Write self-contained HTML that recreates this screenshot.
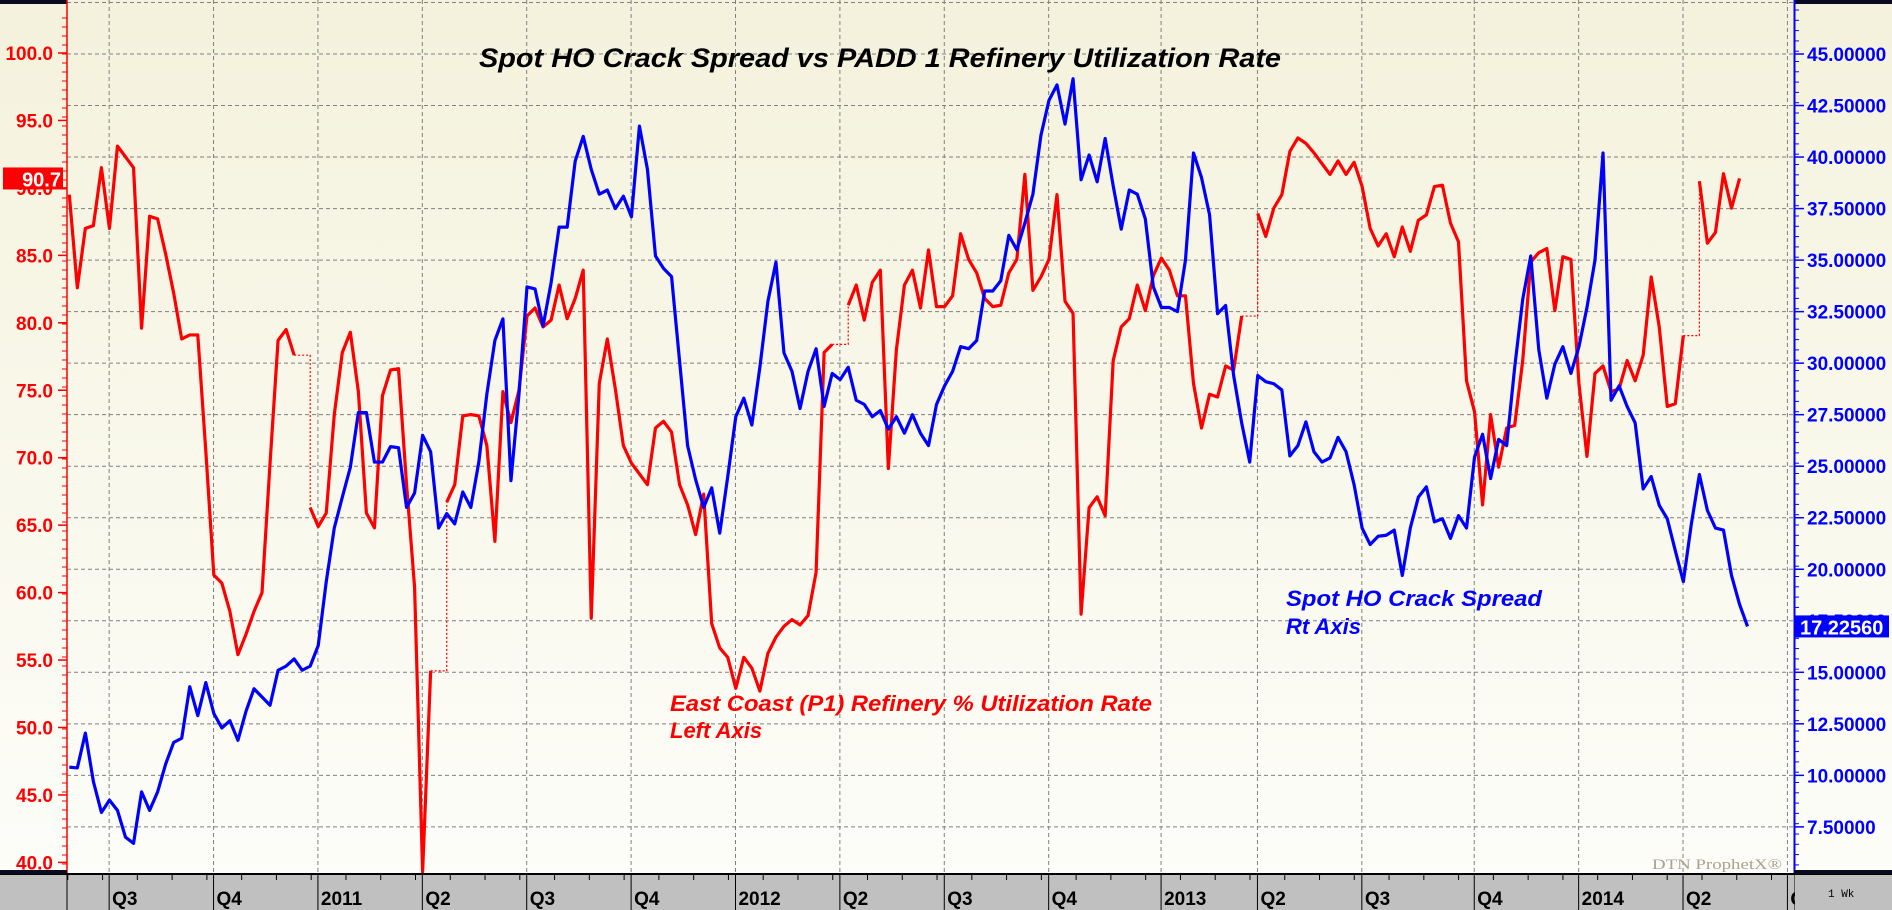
<!DOCTYPE html>
<html><head><meta charset="utf-8">
<style>
html,body{margin:0;padding:0;width:1892px;height:910px;overflow:hidden;background:#fff}
svg{display:block}
</style></head>
<body>
<svg id="chart" width="1892" height="910" viewBox="0 0 1892 910" xmlns="http://www.w3.org/2000/svg">
<defs>
<linearGradient id="bg" x1="0" y1="0" x2="0" y2="1">
<stop offset="0" stop-color="#f4f2dc"/><stop offset="1" stop-color="#fdfdf9"/>
</linearGradient>
<clipPath id="plotclip"><rect x="67" y="0" width="1727" height="873"/></clipPath>
</defs>
<rect x="0" y="0" width="1892" height="874" fill="url(#bg)"/>
<rect x="0" y="0" width="67" height="4" fill="#0a0a20"/>
<rect x="1794" y="0" width="98" height="4" fill="#0a0a20"/>
<g id="grid"></g>
<g id="leftAxis"></g>
<g id="rightAxis"></g>
<g id="series" clip-path="url(#plotclip)"></g>
<text x="479" y="67" font-family="Liberation Sans, sans-serif" font-weight="bold" font-style="italic" font-size="27" fill="#000" textLength="802" lengthAdjust="spacingAndGlyphs">Spot HO Crack Spread vs PADD 1 Refinery Utilization Rate</text>
<text font-family="Liberation Sans, sans-serif" font-weight="bold" font-style="italic" font-size="22" fill="#ff0000"><tspan x="670" y="711" textLength="482" lengthAdjust="spacingAndGlyphs">East Coast (P1) Refinery % Utilization Rate</tspan><tspan x="670" y="738">Left Axis</tspan></text>
<text font-family="Liberation Sans, sans-serif" font-weight="bold" font-style="italic" font-size="22" fill="#0000ff"><tspan x="1286" y="606" textLength="256" lengthAdjust="spacingAndGlyphs">Spot HO Crack Spread</tspan><tspan x="1286" y="634">Rt Axis</tspan></text>
<text x="1652" y="869" font-family="Liberation Serif, serif" font-size="15" fill="#a8a290" textLength="130" lengthAdjust="spacingAndGlyphs">DTN ProphetX®</text>
<g id="xAxis"></g>
<g id="badges"></g>
</svg>
<script>
const NS = 'http://www.w3.org/2000/svg';
const refineryUtil = [89.5,82.6,87.0,87.2,91.5,87.0,93.1,92.3,91.5,79.6,
87.9,87.7,85.1,82.2,78.8,79.1,79.1,70.5,61.3,60.7,
58.6,55.4,56.9,58.6,60.0,69.6,78.7,79.5,77.6,null,
66.3,64.9,65.9,73.2,77.8,79.3,74.9,65.9,64.8,74.6,
76.5,76.6,68.0,60.4,39.3,54.2,null,66.7,68.0,73.1,
73.2,73.1,70.9,63.8,74.9,72.6,75.0,80.5,81.1,79.7,
80.2,82.8,80.3,81.8,83.9,58.1,75.5,78.8,75.1,70.9,
69.6,68.8,68.0,72.2,72.7,71.9,68.0,66.5,64.3,67.3,
57.7,55.9,55.2,52.9,55.2,54.4,52.7,55.5,56.7,57.5,
58.0,57.6,58.3,61.5,77.8,78.4,null,81.3,82.8,80.2,
83.0,83.9,69.2,78.0,82.8,83.9,81.1,85.4,81.2,81.2,
82.0,86.6,84.7,83.7,81.8,81.2,81.3,83.7,84.7,91.0,
82.4,83.4,84.7,89.5,81.6,80.7,58.4,66.3,67.1,65.7,
77.2,79.7,80.3,82.8,80.9,83.5,84.8,83.9,82.0,82.0,
75.5,72.2,74.7,74.5,76.8,76.5,80.5,null,88.1,86.4,
88.5,89.5,92.7,93.7,93.3,92.6,91.8,91.0,92.0,91.0,
91.9,90.1,87.0,85.7,86.6,84.9,87.1,85.3,87.6,88.0,
90.1,90.2,87.4,86.0,75.7,73.4,66.5,73.2,69.3,72.2,
72.4,77.2,84.5,85.2,85.5,80.9,84.9,84.7,75.5,70.1,
76.25,76.8,74.9,75.1,77.2,75.7,77.6,83.4,79.7,73.8,
74.0,79.05,null,90.5,85.9,86.7,91.05,88.5,90.7];
const crackSpread = [10.4,10.36,12.05,9.7,8.2,8.8,8.3,7.0,6.7,9.2,
8.3,9.2,10.55,11.6,11.8,14.3,12.9,14.5,13.0,12.3,
12.65,11.7,13.1,14.2,13.8,13.4,15.1,15.3,15.65,15.1,
15.3,16.3,19.4,22.0,23.5,24.95,27.6,27.6,25.2,25.2,
25.95,25.9,23.0,23.7,26.5,25.7,22.0,22.7,22.2,23.75,
23.0,25.2,28.5,31.1,32.15,24.3,28.5,33.7,33.6,31.8,
33.9,36.6,36.6,39.8,41.0,39.4,38.2,38.4,37.5,38.1,
37.1,41.5,39.4,35.2,34.6,34.2,30.1,26.0,24.35,23.0,
23.95,21.75,24.5,27.4,28.3,27.0,29.8,33.0,34.9,30.5,
29.6,27.8,29.6,30.7,27.9,29.5,29.2,29.8,28.2,28.0,
27.4,27.7,26.8,27.4,26.6,27.5,26.6,26.0,28.0,28.9,
29.6,30.8,30.7,31.1,33.5,33.5,34.0,36.2,35.5,36.8,
38.2,41.05,42.75,43.5,41.6,43.8,38.9,40.1,38.8,40.9,
38.6,36.5,38.4,38.2,37.0,33.7,32.7,32.7,32.5,35.0,
40.2,39.0,37.2,32.4,32.8,29.4,27.1,25.2,29.4,29.1,
29.0,28.7,25.5,26.0,27.15,25.7,25.2,25.4,26.4,25.7,
24.1,22.0,21.2,21.6,21.65,21.9,19.7,22.0,23.5,24.0,
22.3,22.45,21.5,22.6,22.0,25.45,26.55,24.4,26.3,26.0,
29.8,33.1,35.2,30.65,28.3,29.95,30.8,29.5,30.8,32.7,
35.0,40.2,28.2,28.9,27.9,27.1,23.9,24.5,23.1,22.45,
20.9,19.4,22.2,24.6,22.85,22.0,21.9,19.7,18.3,17.2256];
const leftTicks = [100,95,90,85,80,75,70,65,60,55,50,45,40];
const rightTicks = [45,42.5,40,37.5,35,32.5,30,27.5,25,22.5,20,17.5,15,12.5,10,7.5];
const quarterLabels = ['Q3','Q4','2011','Q2','Q3','Q4','2012','Q2','Q3','Q4','2013','Q2','Q3','Q4','2014','Q2','Q3'];
const quarterWeeks = [5,18,31,44,57,70,83,96,109,122,136,148,161,175,188,201,214];

function xw(i){ return 69.3 + 8.03*i; }
function yL(v){ return 53 + (100 - v)*13.49; }
function yR(v){ return 54 + (45 - v)*20.61; }
function mk(tag, attrs, parent){ const e=document.createElementNS(NS,tag); for(const k in attrs) e.setAttribute(k, attrs[k]); parent.appendChild(e); return e; }

const grid=document.getElementById('grid');
[47.5].concat(rightTicks).forEach(v=>{
  const l=mk('line',{x1:67,x2:1794,y1:yR(v),y2:yR(v),stroke:'#808080','stroke-width':1,'stroke-dasharray':'4,3'},grid);
  
  
});
quarterWeeks.forEach(w=>{
  const x=xw(w)-0.3;
  const l=mk('line',{x1:x,x2:x,y1:0,y2:873,stroke:'#808080','stroke-width':1,'stroke-dasharray':'4,3'},grid);
  
  
});

const la=document.getElementById('leftAxis');
mk('line',{x1:67,x2:67,y1:0,y2:874,stroke:'#ff0000','stroke-width':1.5},la);
for(let y=18;y<873;y+=9){ mk('line',{x1:62,x2:67,y1:y,y2:y,stroke:'#ff0000','stroke-width':1},la); }
leftTicks.forEach(v=>{
  mk('line',{x1:58,x2:67,y1:yL(v),y2:yL(v),stroke:'#ff0000','stroke-width':1.5},la);
  const t=mk('text',{x:53,y:yL(v)+7,'text-anchor':'end','font-family':'Liberation Sans, sans-serif','font-weight':'bold','font-size':19,fill:'#ff0000'},la);
  t.textContent=v.toFixed(1);
  
  
});
const ra=document.getElementById('rightAxis');
mk('line',{x1:1794.5,x2:1794.5,y1:0,y2:874,stroke:'#0000ff','stroke-width':2},ra);
for(let y=10;y<873;y+=10.3){ mk('line',{x1:1794,x2:1799,y1:y,y2:y,stroke:'#0000ff','stroke-width':1},ra); }
rightTicks.forEach(v=>{
  mk('line',{x1:1794,x2:1804,y1:yR(v),y2:yR(v),stroke:'#0000ff','stroke-width':1.5},ra);
  const t=mk('text',{x:1807,y:yR(v)+7,'font-family':'Liberation Sans, sans-serif','font-weight':'bold','font-size':19,fill:'#0000ff'},ra);
  t.textContent=v.toFixed(5);
  
  
});

const sg=document.getElementById('series');
function drawSeries(vals, yf, color, name){
  let d='', pen=false, lastValid=null;
  const gapD=[];
  vals.forEach((v,i)=>{
    if(v===null){ pen=false; return; }
    const x=xw(i), y=yf(v);
    if(!pen){
      if(lastValid!==null && lastValid.i < i-1){
        gapD.push('M'+lastValid.x+','+lastValid.y+'H'+x+'V'+y);
      }
      d+='M'+x+','+y; pen=true;
    } else d+='L'+x+','+y;
    lastValid={i:i,x:x,y:y};
  });
  gapD.forEach(g=>{
    const p=mk('path',{d:g,fill:'none',stroke:color,'stroke-width':1.2,'stroke-dasharray':'2,2'},sg);
    
    
  });
  const p=mk('path',{d:d,fill:'none',stroke:color,'stroke-width':3.2,'stroke-linejoin':'round'},sg);
  
  
}
drawSeries(refineryUtil, yL, '#ff0000', 'refinery-utilization-line');
drawSeries(crackSpread, yR, '#0000ff', 'crack-spread-line');

const xa=document.getElementById('xAxis');
mk('rect',{x:0,y:873,width:1892,height:37,fill:'#c0c0c0'},xa);
mk('line',{x1:0,x2:1892,y1:874,y2:874,stroke:'#000','stroke-width':2},xa);
mk('rect',{x:0,y:870,width:67,height:4,fill:'#0a0a20'},xa);
mk('rect',{x:1794,y:870,width:98,height:4,fill:'#0a0a20'},xa);
mk('line',{x1:67,x2:67,y1:874,y2:910,stroke:'#000','stroke-width':1},xa);
mk('line',{x1:1795,x2:1795,y1:874,y2:910,stroke:'#000','stroke-width':1},xa);
for(let w=0; w<216; w+=4.33){
  const x=xw(w)-1.5;
  if(x>1794) break;
  mk('line',{x1:x,x2:x,y1:874,y2:880,stroke:'#000','stroke-width':1},xa);
}
quarterWeeks.forEach((w,i)=>{
  const x=xw(w)-0.3;
  mk('line',{x1:x,x2:x,y1:874,y2:910,stroke:'#000','stroke-width':1},xa);
  const t=mk('text',{x:x+3,y:905,'font-family':'Liberation Sans, sans-serif','font-weight':'bold','font-size':19,fill:'#000'},xa);
  t.textContent=quarterLabels[i];
  
  
});
mk('rect',{x:1795,y:875,width:97,height:35,fill:'#c0c0c0'},xa);
const wk=mk('text',{x:1828,y:897,'font-family':'Liberation Mono, monospace','font-size':11,fill:'#000'},xa);
wk.textContent='1 Wk';



const bg=document.getElementById('badges');
const lastRed=refineryUtil[refineryUtil.length-1];
const lastBlue=crackSpread[crackSpread.length-1];
const rb=mk('rect',{x:3,y:yL(lastRed)-11,width:60,height:22,fill:'#ff0000'},bg);


const rt=mk('text',{x:61,y:yL(lastRed)+8,'text-anchor':'end','font-family':'Liberation Sans, sans-serif','font-weight':'bold','font-size':20,fill:'#fff'},bg);
rt.textContent=lastRed.toFixed(1);


const bb=mk('rect',{x:1795,y:yR(lastBlue)-11,width:94,height:22,fill:'#0000ff'},bg);


const bt=mk('text',{x:1800,y:yR(lastBlue)+8,'font-family':'Liberation Sans, sans-serif','font-weight':'bold','font-size':20,fill:'#fff'},bg);
bt.textContent=lastBlue.toFixed(5);


</script>
</body></html>
